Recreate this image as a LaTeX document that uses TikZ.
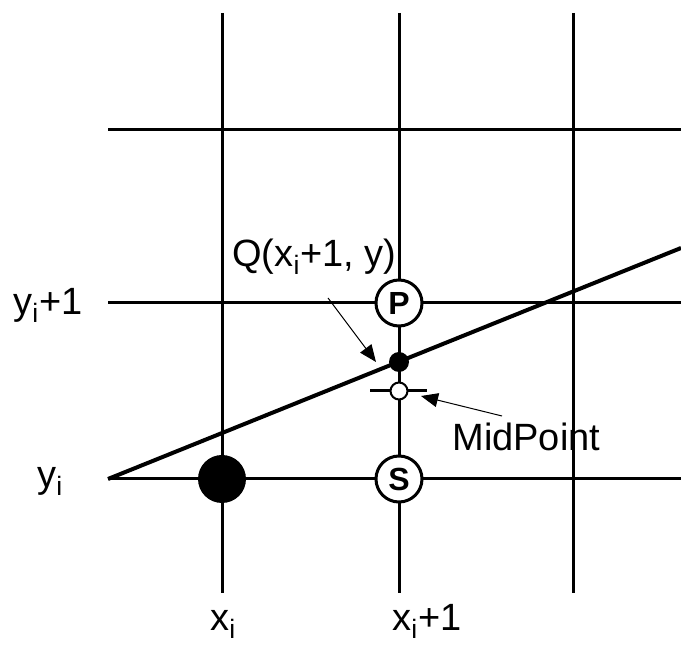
\documentclass[tikz,border=0pt]{standalone}
\usepackage{fontspec}
\setmainfont{Liberation Sans}
\usetikzlibrary{arrows.meta}

\begin{document}
\begin{tikzpicture}[x=0.5pt, y=-0.5pt, every node/.style={font=\fontsize{19}{23}\selectfont}]
    \useasboundingbox (0,0) rectangle (681,646);

    % grid
    \foreach \x in {222,399,573} \draw[line width=1.5pt] (\x,13) -- (\x,593);
    \foreach \y in {130,303,479} \draw[line width=1.5pt] (108,\y) -- (681,\y);

    % line and midpoint tick
    \draw[line width=2pt] (108,479) -- (681,248);
    \draw[line width=1.5pt] (370,391) -- (427,391);

    % pixels
    \node[circle, fill=black, inner sep=0pt, minimum size=24pt] (start) at (222,479) {};
    \node[circle, draw, fill=white, line width=1.5pt, inner sep=0pt, minimum size=23pt, font=\fontsize{16}{18}\selectfont\bfseries] (P) at (399,303) {P};
    \node[circle, draw, fill=white, line width=1.5pt, inner sep=0pt, minimum size=23pt, font=\fontsize{16}{18}\selectfont\bfseries] (S) at (399,479) {S};
    \node[circle, fill=black, inner sep=0pt, minimum size=10pt] (Q) at (399,362) {};
    \node[circle, draw, fill=white, line width=1pt, inner sep=0pt, minimum size=8.5pt] (M) at (399,391) {};

    % labels
    \node[anchor=base west, inner sep=0pt] (qlab) at (232,267) {Q(x\textsubscript{i}+1, y)};
    \node[anchor=base west, inner sep=0pt] (mlab) at (452,451) {MidPoint};
    \node[anchor=base west, inner sep=0pt] (ylab1) at (13,315) {y\textsubscript{i}+1};
    \node[anchor=base west, inner sep=0pt] (ylab0) at (37,488) {y\textsubscript{i}};
    \node[anchor=base west, inner sep=0pt] (xlab0) at (210,631) {x\textsubscript{i}};
    \node[anchor=base west, inner sep=0pt] (xlab1) at (392,631) {x\textsubscript{i}+1};

    % pointers
    \coordinate (qtail) at (328,298);
    \coordinate (qtip) at (376,362);
    \coordinate (mtail) at (502,416);
    \coordinate (mtip) at (421,396);
    \draw[line width=0.5pt, -{Triangle[length=8.5pt, width=7pt]}] (qtail) -- (qtip);
    \draw[line width=0.5pt, -{Triangle[length=8.5pt, width=7pt]}] (mtail) -- (mtip);
\end{tikzpicture}
\end{document}
